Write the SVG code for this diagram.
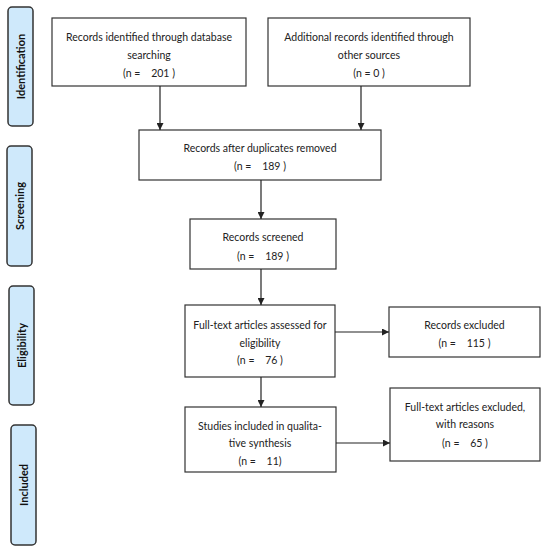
<svg xmlns="http://www.w3.org/2000/svg" width="548" height="550" viewBox="0 0 548 550">
<style>
.box{fill:#fff;stroke:#333;stroke-width:1.2}
.lab{fill:#cfe9fb;stroke:#333;stroke-width:1.5}
.t{font-family:Lato,"Liberation Sans",sans-serif;font-size:10.5px;fill:#222;text-anchor:middle}
.lt{font-family:Lato,"Liberation Sans",sans-serif;font-size:11px;font-weight:bold;fill:#111;text-anchor:middle}
.c{stroke:#222;stroke-width:1.2;fill:none;marker-end:url(#ah)}
</style>
<defs>
<marker id="ah" viewBox="0 0 10 10" refX="10" refY="5" markerWidth="7" markerHeight="7" markerUnits="userSpaceOnUse" orient="auto">
<path d="M0,0 L10,5 L0,10 z" fill="#222"/>
</marker>
</defs>
<rect width="548" height="550" fill="#fff"/>
<g id="lab-identification"><rect class="lab" x="8" y="7" width="25" height="119" rx="4"/><text class="lt" transform="translate(24.5,66.5) rotate(-90)">Identification</text></g>
<g id="lab-screening"><rect class="lab" x="7" y="146" width="25" height="120" rx="4"/><text class="lt" transform="translate(23.5,206) rotate(-90)">Screening</text></g>
<g id="lab-eligibility"><rect class="lab" x="9" y="286" width="25" height="119" rx="4"/><text class="lt" transform="translate(25.5,345.5) rotate(-90)">Eligibility</text></g>
<g id="lab-included"><rect class="lab" x="11" y="425" width="25" height="120" rx="4"/><text class="lt" transform="translate(27.5,485) rotate(-90)">Included</text></g>

<g id="n1"><rect class="box" x="52" y="18" width="194" height="68"/><text class="t" x="149" y="41">Records identified through database</text><text class="t" x="149" y="59">searching</text><text class="t" x="149" y="77" xml:space="preserve">(n =    201 )</text></g>
<g id="n2"><rect class="box" x="268" y="18" width="202" height="68"/><text class="t" x="369" y="41">Additional records identified through</text><text class="t" x="369" y="59">other sources</text><text class="t" x="369" y="77">(n = 0 )</text></g>
<g id="n3"><rect class="box" x="139" y="130" width="242" height="50"/><text class="t" x="260" y="152">Records after duplicates removed</text><text class="t" x="260" y="170" xml:space="preserve">(n =    189 )</text></g>
<g id="n4"><rect class="box" x="190" y="219" width="146" height="50"/><text class="t" x="263" y="241">Records screened</text><text class="t" x="263" y="260" xml:space="preserve">(n =    189 )</text></g>
<g id="n5"><rect class="box" x="185" y="305" width="150" height="72"/><text class="t" x="260" y="329">Full-text articles assessed for</text><text class="t" x="260" y="347">eligibility</text><text class="t" x="260" y="364" xml:space="preserve">(n =    76 )</text></g>
<g id="n6"><rect class="box" x="389" y="307" width="151" height="50"/><text class="t" x="464.5" y="329">Records excluded</text><text class="t" x="464.5" y="347" xml:space="preserve">(n =    115 )</text></g>
<g id="n7"><rect class="box" x="185" y="407" width="151" height="65"/><text class="t" x="260" y="430">Studies included in qualita-</text><text class="t" x="260" y="447">tive synthesis</text><text class="t" x="260" y="465" xml:space="preserve">(n =    11)</text></g>
<g id="n8"><rect class="box" x="390" y="388" width="150" height="73"/><text class="t" x="465" y="411">Full-text articles excluded,</text><text class="t" x="465" y="428">with reasons</text><text class="t" x="465" y="447" xml:space="preserve">(n =    65 )</text></g>

<g id="connectors">
<line class="c" x1="160" y1="86" x2="160" y2="130"/>
<line class="c" x1="361" y1="86" x2="361" y2="130"/>
<line class="c" x1="261" y1="180" x2="261" y2="219"/>
<line class="c" x1="261" y1="269" x2="261" y2="305"/>
<line class="c" x1="261" y1="377" x2="261" y2="407"/>
<line class="c" x1="335" y1="332" x2="389" y2="332"/>
<line class="c" x1="336" y1="443" x2="390" y2="443"/>
</g>
</svg>
